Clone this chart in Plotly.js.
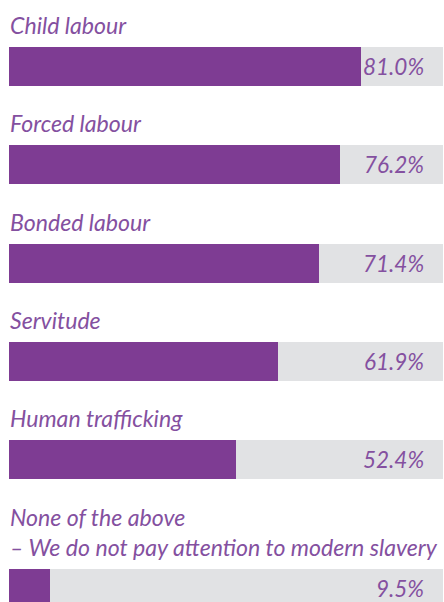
<!DOCTYPE html>
<html>
<head>
<meta charset="utf-8">
<script src="https://cdn.plot.ly/plotly-3.0.1.min.js"></script>
<style>
  html, body { margin: 0; padding: 0; background: #ffffff; }
  #chart { width: 444px; height: 602px; }
</style>
</head>
<body>
<div id="chart"></div>
<script>
const categories = [
  'Child labour',
  'Forced labour',
  'Bonded labour',
  'Servitude',
  'Human trafficking',
  'None of the above<br>– We do not pay attention to modern slavery'
];
const values = [81.0, 76.2, 71.4, 61.9, 52.4, 9.5];
const valueLabels = ['81.0%', '76.2%', '71.4%', '61.9%', '52.4%', '9.5%'];

// layout constants (pixels)
const W = 444, H = 602;
const firstTop = 47, barH = 39, step = 98.3, lineH = 30;
const purple = '#7E3C93';
const textPurple = '#8450A0';
const grey = '#E1E2E4';
const fontFamily = 'Lato, "Open Sans", sans-serif';

const tops = [];
categories.forEach((c, i) => {
  const lines = c.split('<br>').length;
  if (i === 0) tops.push(firstTop);
  else tops.push(tops[i - 1] + step + (lines - 1) * lineH);
});
const centers = tops.map(t => t + barH / 2);

const fg = {
  type: 'bar', orientation: 'h',
  x: values, y: centers, width: centers.map(() => barH),
  marker: { color: purple }, hoverinfo: 'skip', showlegend: false
};
const bg = {
  type: 'bar', orientation: 'h',
  x: values.map(v => 100 - v), y: centers, width: centers.map(() => barH),
  marker: { color: grey }, hoverinfo: 'skip', showlegend: false
};

const annotations = [];
categories.forEach((c, i) => {
  annotations.push({
    xref: 'paper', x: 0, xanchor: 'left', xshift: -1,
    yref: 'y', y: tops[i] - 6, yanchor: 'bottom',
    text: c, showarrow: false, align: 'left',
    font: { family: fontFamily, size: 23.1, color: textPurple, style: 'italic' }
  });
  annotations.push({
    xref: 'paper', x: 1, xanchor: 'right', xshift: -18,
    yref: 'y', y: centers[i], yanchor: 'middle',
    text: valueLabels[i], showarrow: false,
    font: { family: fontFamily, size: 22.5, color: textPurple, style: 'italic' }
  });
});

const layout = {
  width: W, height: H, autosize: false,
  margin: { l: 9, r: 0, t: 0, b: 0, pad: 0 },
  barmode: 'stack',
  paper_bgcolor: '#ffffff', plot_bgcolor: '#ffffff',
  xaxis: { range: [0, 435 / 4.34], visible: false, fixedrange: true },
  yaxis: { range: [H, 0], visible: false, fixedrange: true },
  annotations: annotations,
  hovermode: false, showlegend: false
};

Plotly.newPlot('chart', [fg, bg], layout, { displayModeBar: false, staticPlot: true });
</script>
</body>
</html>
